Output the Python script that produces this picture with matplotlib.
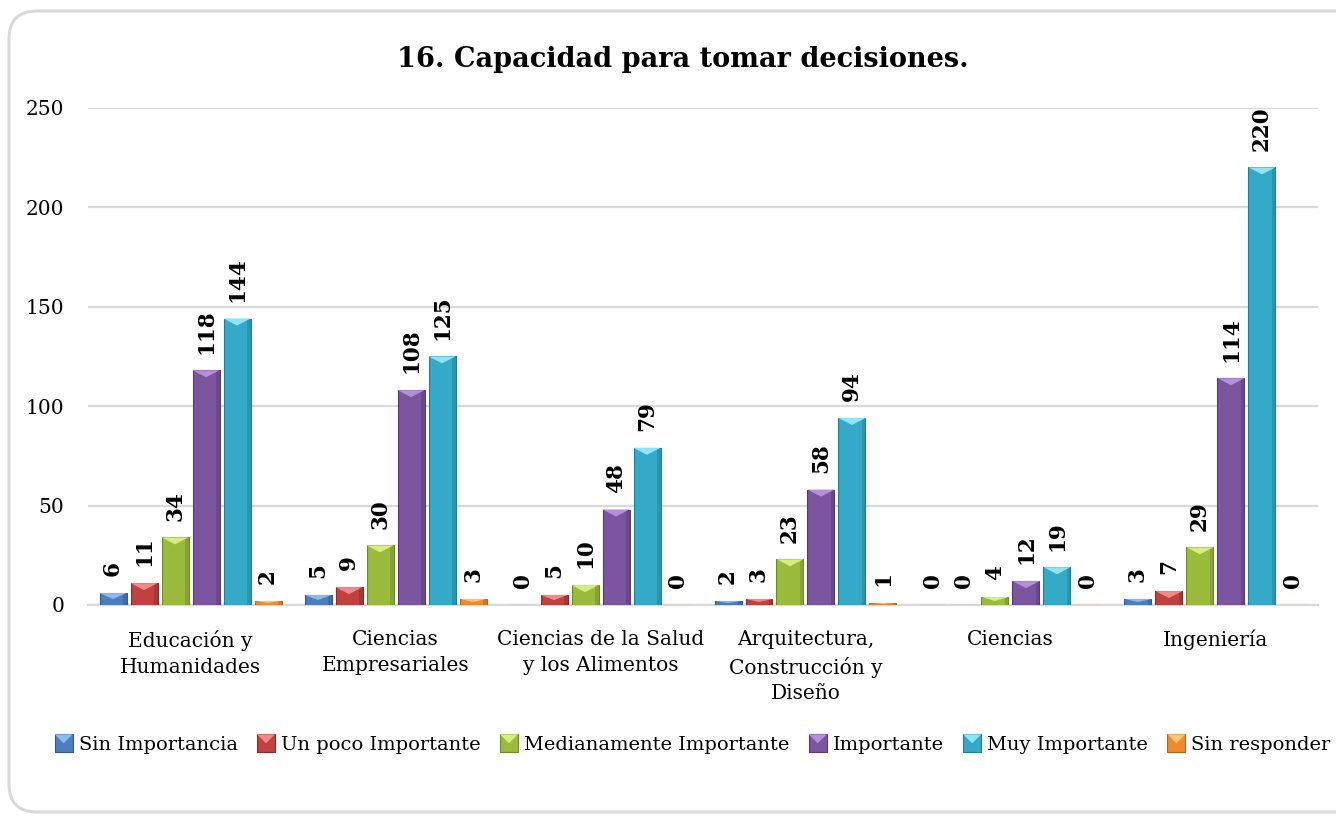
import numpy as np
import matplotlib
matplotlib.use("Agg")
import matplotlib.pyplot as plt
from matplotlib.patches import Polygon, FancyBboxPatch, Rectangle
from matplotlib.legend_handler import HandlerBase

# datos
categorias = ["Educación y\nHumanidades", "Ciencias\nEmpresariales",
              "Ciencias de la Salud\ny los Alimentos",
              "Arquitectura,\nConstrucción y\nDiseño", "Ciencias", "Ingeniería"]
series = ["Sin Importancia", "Un poco Importante", "Medianamente Importante",
          "Importante", "Muy Importante", "Sin responder"]
sin_importancia = [6, 5, 0, 2, 0, 3]
poco_importante = [11, 9, 5, 3, 0, 7]
medianamente = [34, 30, 10, 23, 4, 29]
importante = [118, 108, 48, 58, 12, 114]
muy_importante = [144, 125, 79, 94, 19, 220]
sin_responder = [2, 3, 0, 1, 0, 0]
y_ticks = [0, 50, 100, 150, 200, 250]

valores = [sin_importancia, poco_importante, medianamente, importante, muy_importante, sin_responder]
colores = ["#4a7ebf", "#c0413f", "#9bbb3c", "#7b559f", "#34aac8", "#f08a2c"]
oscuros = ["#2f5a8f", "#8c2a28", "#6e8a26", "#553a75", "#1f7d96", "#b8631a"]
claros = ["#8fb8ec", "#f08a88", "#d6ee80", "#b58fd8", "#8fe4f6", "#ffc27a"]

plt.rcParams["font.family"] = ["DejaVu Serif"]

fig = plt.figure(figsize=(13.36, 8.17), dpi=100)
ax = fig.add_axes([0.0659, 0.2595, 0.9206, 0.6087])

# marco redondeado
marco = FancyBboxPatch((0.09, 0.05), 13.6, 8.01, boxstyle="round,pad=0,rounding_size=0.28",
                       transform=fig.dpi_scale_trans, fill=False, ec="#d9d9d9", lw=2.2)
fig.patches.append(marco)

x = np.arange(len(categorias))
paso = 31 / 205
ancho = 27 / 205
px_y = 250 / 497  # unidades de datos por pixel

for i, vals in enumerate(valores):
    pos = x + (i - 2.5) * paso
    ax.bar(pos, vals, width=ancho, color=colores[i], edgecolor=oscuros[i], lw=0.8, zorder=3)
    for xp, v in zip(pos, vals):
        if v > 0:
            # efecto bisel
            d = min(7 * px_y, v * 0.5)
            ax.add_patch(Rectangle((xp + ancho / 2 - ancho * 0.14, 0), ancho * 0.14, v,
                                   color=oscuros[i], alpha=0.45, lw=0, zorder=4))
            ax.add_patch(Polygon([(xp - ancho / 2, v), (xp + ancho / 2, v), (xp, v - d)],
                                 closed=True, color=claros[i], lw=0, zorder=5))
        ax.annotate(str(v), (xp, v), xytext=(0, 12), textcoords="offset points",
                    rotation=90, ha="center", va="bottom", fontsize=15.5,
                    fontweight="bold", zorder=6)

ax.set_xlim(-0.5, len(categorias) - 0.5)
ax.set_ylim(0, 250)
ax.set_yticks(y_ticks)
ax.set_xticks(x)
ax.set_xticklabels(categorias, fontsize=14.5, linespacing=1.45)
ax.tick_params(axis="y", length=0, pad=17, labelsize=14.5)
ax.tick_params(axis="x", length=0, pad=18)
ax.grid(axis="y", color="#d9d9d9", lw=1.6, zorder=0)
for s in ["top", "right", "left"]:
    ax.spines[s].set_visible(False)
ax.spines["bottom"].set_color("#d9d9d9")
ax.spines["bottom"].set_linewidth(1.6)

fig.text(0.511, 0.927, "16. Capacidad para tomar decisiones.", ha="center", va="center",
         fontsize=19.5, fontweight="bold")


class HandlerBisel(HandlerBase):
    def create_artists(self, legend, orig, xd, yd, w, h, fontsize, trans):
        i = orig
        lado = 13
        x0 = xd + w - lado
        y0 = yd + (h - lado) / 2
        r = Rectangle((x0, y0), lado, lado, fc=colores[i], ec=oscuros[i], lw=0.8, transform=trans)
        t = Polygon([(x0, y0 + lado), (x0 + lado, y0 + lado), (x0 + lado / 2, y0 + lado * 0.5)],
                    closed=True, fc=claros[i], lw=0, transform=trans)
        return [r, t]


handles = list(range(len(series)))
leg = fig.legend(handles, series, handler_map={int: HandlerBisel()}, loc="center left",
                 bbox_to_anchor=(0.0445, 0.088), ncol=6, frameon=False, fontsize=14,
                 handlelength=0.68, handletextpad=0.3, columnspacing=1.25, borderaxespad=0,
                 borderpad=0)

fig.savefig("out.png", dpi=100, facecolor="white")
